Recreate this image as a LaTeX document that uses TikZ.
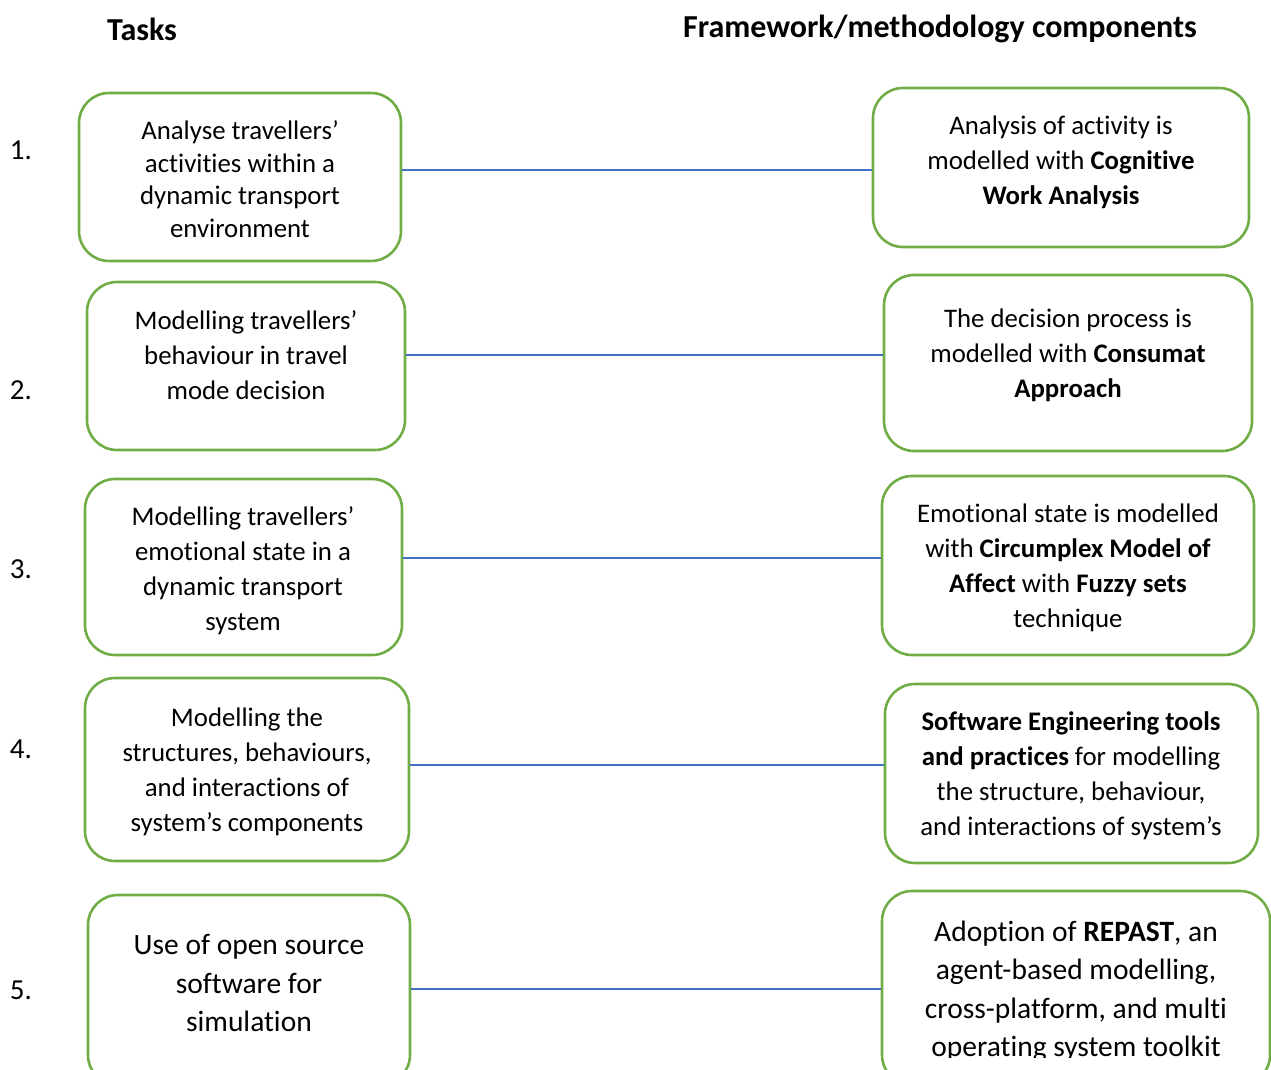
\documentclass[tikz,border=0pt]{standalone}
\usepackage{fontspec}
\setmainfont{Carlito}[Ligatures=NoCommon]
\begin{document}
\begin{tikzpicture}[x=1pt,y=-1pt,
  box/.style={draw=boxgreen,line width=2.6pt,rounded corners=30pt,inner sep=0pt},
  txt/.style={align=center,inner sep=0pt,font=\fontsize{26.8}{35.1}\selectfont},
  tighttxt/.style={align=center,inner sep=0pt,font=\fontsize{26.8}{32.7}\selectfont},
  bigtxt/.style={align=center,inner sep=0pt,font=\fontsize{29.5}{38.5}\selectfont},
  num/.style={inner sep=0pt,font=\fontsize{29}{32}\selectfont},
  head/.style={inner sep=0pt,font=\fontsize{32}{36}\selectfont\bfseries},
  link/.style={draw=linkblue,line width=1.3pt}]
\definecolor{boxgreen}{HTML}{70AD47}
\definecolor{linkblue}{HTML}{4472C4}
\useasboundingbox (0,0) rectangle (1271,1070);
\clip (0,0) rectangle (1271,1070);

% column headings
\node[head] (htasks) at (142,29) {Tasks};
\node[head] (hcomp) at (940,29) {Framework/methodology components};

% row numbers
\node[num] (n1) at (21,150) {1.};
\node[num] (n2) at (21,390) {2.};
\node[num] (n3) at (21,569) {3.};
\node[num] (n4) at (21,749) {4.};
\node[num] (n5) at (21,990) {5.};

% task boxes
\node[box,minimum width=322pt,minimum height=168pt] (b1l) at (240,177) {};
\node[box,minimum width=318pt,minimum height=168pt] (b2l) at (246,366) {};
\node[box,minimum width=317pt,minimum height=176pt] (b3l) at (243.5,567) {};
\node[box,minimum width=324pt,minimum height=183pt] (b4l) at (247,769.5) {};
\node[box,minimum width=322pt,minimum height=190pt] (b5l) at (249,990) {};

% component boxes
\node[box,minimum width=376pt,minimum height=159pt] (b1r) at (1061,167.5) {};
\node[box,minimum width=368pt,minimum height=176pt] (b2r) at (1068,363) {};
\node[box,minimum width=372pt,minimum height=179pt] (b3r) at (1068,565.5) {};
\node[box,minimum width=373pt,minimum height=179pt] (b4r) at (1071.5,773.5) {};
\node[box,minimum width=388pt,minimum height=194pt] (b5r) at (1076,988) {};

% task texts
\node[tighttxt] (t1l) at (240,179) {Analyse travellers’\\activities within a\\dynamic transport\\environment};
\node[txt] (t2l) at (246,355) {Modelling travellers’\\behaviour in travel\\mode decision};
\node[txt] (t3l) at (243,571) {Modelling travellers’\\emotional state in a\\dynamic transport\\system};
\node[txt] (t4l) at (247,772) {Modelling the\\structures, behaviours,\\and interactions of\\system’s components};
\node[bigtxt] (t5l) at (249,983) {Use of open source\\software for\\simulation};

% component texts
\node[txt] (t1r) at (1061,162.5) {Analysis of activity is\\modelled with \textbf{Cognitive}\\\textbf{Work Analysis}};
\node[txt] (t2r) at (1068,355) {The decision process is\\modelled with \textbf{Consumat}\\\textbf{Approach}};
\node[txt] (t3r) at (1068,568) {Emotional state is modelled\\with \textbf{Circumplex Model of}\\\textbf{Affect} with \textbf{Fuzzy sets}\\technique};
\node[txt] (t4r) at (1071,776) {\textbf{Software Engineering tools}\\\textbf{and practices} for modelling\\the structure, behaviour,\\and interactions of system’s};
% the last text frame is cut off at its inner margin
\begin{scope}
  \clip (880,880) rectangle (1271,1057);
  \node[bigtxt] (t5r) at (1076,991.5) {Adoption of \textbf{REPAST}, an\\agent-based modelling,\\cross-platform, and multi\\operating system toolkit};
\end{scope}

% connectors between each task and its component
\coordinate (y1) at (0,170);
\coordinate (y2) at (0,355);
\coordinate (y3) at (0,558);
\coordinate (y4) at (0,765);
\coordinate (y5) at (0,989);
\draw[link] (b1l.east |- y1) -- (b1r.west |- y1);
\draw[link] (b2l.east |- y2) -- (b2r.west |- y2);
\draw[link] (b3l.east |- y3) -- (b3r.west |- y3);
\draw[link] (b4l.east |- y4) -- (b4r.west |- y4);
\draw[link] (b5l.east |- y5) -- (b5r.west |- y5);
\end{tikzpicture}
\end{document}
